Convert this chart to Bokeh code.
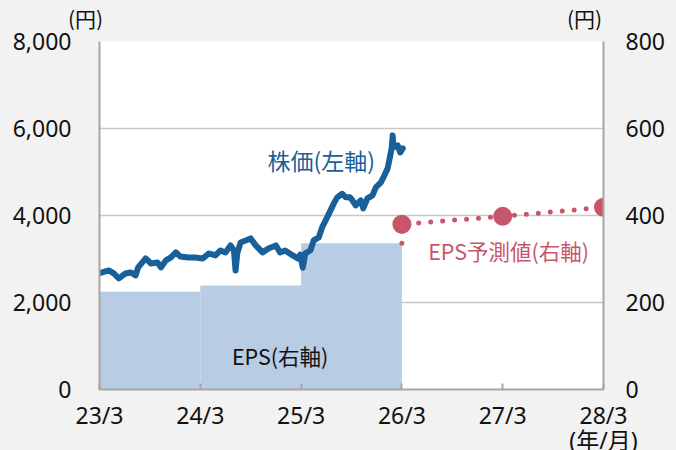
from bokeh.plotting import figure
from bokeh.layouts import column
from bokeh.models import Range1d, LinearAxis, FixedTicker, NumeralTickFormatter, Label
from bokeh.core.properties import value
from bokeh.embed import file_html
from bokeh.resources import INLINE

# ---- data ----
x_ticks = [0, 12, 24, 36, 48, 60]
x_labels = ["23/3", "24/3", "25/3", "26/3", "27/3", "28/3\n(年/月)"]
left_ticks = [0, 2000, 4000, 6000, 8000]
right_ticks = [0, 200, 400, 600, 800]
unit_labels = ["(円)", "(円)"]

# stock price (months since 2023/3, yen)
price_month = [0, 1.1, 1.7, 2.3, 3.1, 3.7, 4.3, 4.6, 5.5, 6.1, 6.9, 7.3, 7.9, 8.5, 9.1, 9.6,
               10.6, 11.4, 12.3, 13.0, 13.8, 14.4, 15.0, 15.6, 16.0, 16.2, 16.4, 16.8, 17.4,
               18.0, 18.6, 19.4, 20.1, 21.0, 21.5, 22.1, 23.0, 23.6, 23.9, 24.2, 24.5, 25.1,
               25.5, 26.1, 26.5, 27.1, 27.5, 27.9, 28.3, 28.9, 29.3, 29.8, 30.1, 30.5, 31.1,
               31.4, 31.9, 32.5, 32.9, 33.5, 33.8, 34.3, 34.5, 34.8, 34.9, 35.0, 35.5, 35.8, 36.1]
price_value = [2675, 2737, 2668, 2553, 2668, 2691, 2622, 2806, 3013, 2898, 2921, 2806, 2967,
               3036, 3151, 3059, 3036, 3036, 3013, 3128, 3082, 3197, 3151, 3312, 3197, 2737,
               3128, 3381, 3427, 3473, 3312, 3151, 3243, 3312, 3151, 3197, 3082, 3013, 3100,
               2800, 3128, 3197, 3427, 3496, 3726, 3956, 4117, 4278, 4416, 4500, 4420, 4420,
               4350, 4232, 4347, 4163, 4393, 4462, 4646, 4761, 4876, 5083, 5267, 5566, 5842,
               5566, 5612, 5451, 5543]

# EPS actual (right axis, yen), fiscal periods
eps_start = [0, 12, 24]
eps_end = [12, 24, 36]
eps_value = [225, 239, 336]

# EPS forecast (right axis)
fc_month = [36, 36, 48, 60]
fc_value = [336, 380, 398, 419]
fc_point_month = [36, 48, 60]
fc_point_value = [380, 398, 419]

BLUE = "#195f98"
RED = "#c8566b"
BAR = "#b8cce4"
GREY = "#a6a6a6"
BG = "#f2f2f2"
TXT = "#111111"
FONT = "Noto Sans CJK JP"
NUMFONT = "Noto Sans, Noto Sans CJK JP"

W = 676

# ---- header with unit labels ----
head = figure(width=W, height=30, x_range=Range1d(0, W), y_range=Range1d(30, 0),
              output_backend="svg", toolbar_location=None, title_location=None,
              x_axis_location=None, y_axis_location=None,
              min_border=0, background_fill_color=BG, border_fill_color=BG,
              outline_line_color=None)
head.grid.visible = False
head.text(x=[85, 584], y=[17, 17], text=unit_labels, text_align="center",
          text_baseline="middle", text_font=value(FONT), text_font_size="21px",
          text_color=TXT)

# ---- main chart ----
p = figure(frame_width=504, frame_height=348,
           x_range=Range1d(0, 60), y_range=Range1d(0, 8000),
           output_backend="svg", toolbar_location=None, title_location=None,
           min_border_left=99, min_border_right=73, min_border_top=11, min_border_bottom=61,
           background_fill_color="white", border_fill_color=BG,
           outline_line_color=None)
p.extra_y_ranges = {"eps": Range1d(0, 800)}

for f in (head, p):
    if "frame_align" in f.properties():
        f.frame_align = False

p.xgrid.visible = False
p.ygrid.ticker = FixedTicker(ticks=[2000, 4000, 6000, 8000])
p.ygrid.grid_line_color = "#c8c8c8"
p.ygrid.grid_line_width = 1.5

xa = p.xaxis[0]
xa.ticker = FixedTicker(ticks=x_ticks)
xa.major_label_overrides = {t: l for t, l in zip(x_ticks, x_labels)}
xa.axis_line_color = GREY
xa.axis_line_width = 2
xa.major_tick_in = 6
xa.major_tick_out = 0
xa.major_tick_line_color = GREY
xa.major_tick_line_width = 2
xa.minor_tick_line_color = None
xa.major_label_standoff = 9
xa.major_label_text_font = NUMFONT
xa.major_label_text_font_size = "23px"
xa.major_label_text_line_height = 0.8
xa.major_label_text_color = TXT

ya = p.yaxis[0]
ya.ticker = FixedTicker(ticks=left_ticks)
ya.formatter = NumeralTickFormatter(format="0,0")
ya.axis_line_color = GREY
ya.axis_line_width = 2
ya.major_tick_line_color = None
ya.minor_tick_line_color = None
ya.major_label_standoff = 22
ya.major_label_text_font = NUMFONT
ya.major_label_text_font_size = "23px"
ya.major_label_text_color = TXT

ra = LinearAxis(y_range_name="eps", ticker=FixedTicker(ticks=right_ticks))
ra.axis_line_color = GREY
ra.axis_line_width = 2
ra.major_tick_line_color = None
ra.minor_tick_line_color = None
ra.major_label_standoff = 16
ra.major_label_text_font = NUMFONT
ra.major_label_text_font_size = "23px"
ra.major_label_text_color = TXT
p.add_layout(ra, "right")

# EPS bars
p.quad(left=eps_start, right=eps_end, bottom=0, top=eps_value, y_range_name="eps",
       fill_color=BAR, line_color=None)

# stock price
p.line(price_month, price_value, line_color=BLUE, line_width=6, line_join="round",
       line_cap="round")

# EPS forecast
p.line(fc_month, fc_value, y_range_name="eps", line_color=RED, line_width=5,
       line_dash="0 12", line_cap="round")
p.scatter(fc_point_month, fc_point_value, y_range_name="eps", size=19,
          fill_color=RED, line_color=None)


def lab(x, y, text, color, size):
    p.add_layout(Label(x=x, y=y, text=text, text_align="center", text_baseline="middle",
                       text_font=FONT, text_font_size=size, text_color=color))


lab(26.4, 5287, "株価(左軸)", BLUE, "23px")
lab(48.7, 3195, "EPS予測値(右軸)", RED, "21.5px")
lab(21.5, 782, "EPS(右軸)", TXT, "21.5px")

page = column(head, p, spacing=0)

html = file_html(page, INLINE)
html = html.replace("</head>", "<style>html,body{background:#f2f2f2;}</style></head>")
open("out.html", "w").write(html)
